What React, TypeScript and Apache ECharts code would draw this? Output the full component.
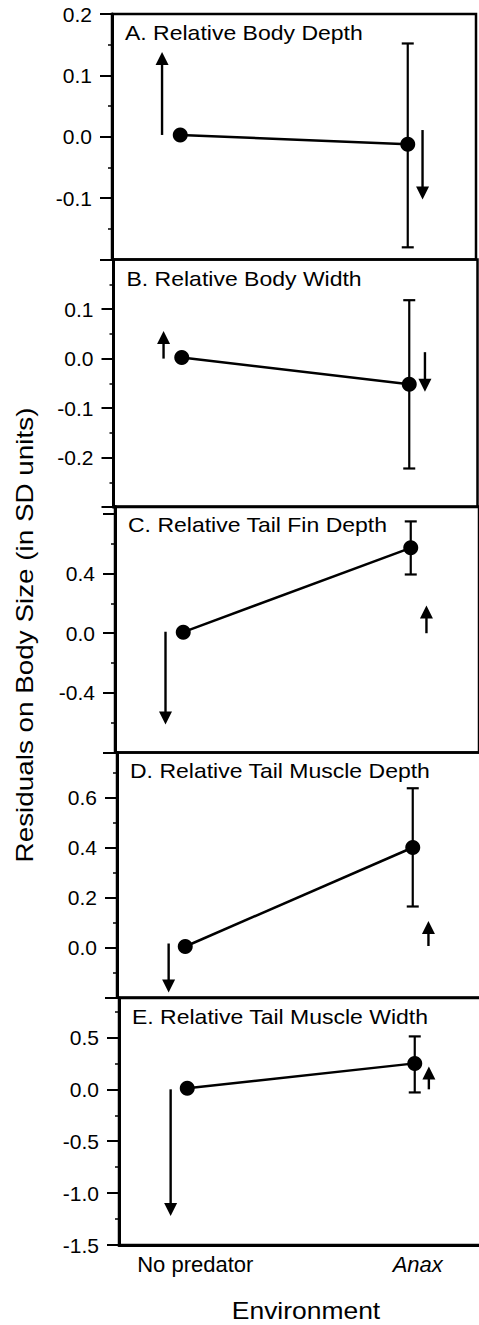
import React, { useEffect, useRef } from 'react';
import * as echarts from 'echarts';

const FONT = '"Liberation Sans", Arial, Helvetica, sans-serif';

// Categories (x positions 0 and 1 on a value axis)
const categories = ['No predator', 'Anax'];

// Panel titles
const titles = [
  'A. Relative Body Depth',
  'B. Relative Body Width',
  'C. Relative Tail Fin Depth',
  'D. Relative Tail Muscle Depth',
  'E. Relative Tail Muscle Width',
];

// Means [No predator, Anax]
const meanA = [0.003, -0.012];
const meanB = [0.002, -0.052];
const meanC = [0.007, 0.573];
const meanD = [0.004, 0.4];
const meanE = [0.01, 0.25];

// Error bar for Anax [low, high]
const errA = [-0.18, 0.152];
const errB = [-0.222, 0.118];
const errC = [0.394, 0.75];
const errD = [0.164, 0.637];
const errE = [-0.03, 0.51];

// Arrows [x, from, to(tip)]
const arrowsA = [[-0.08, 0.003, 0.138], [1.065, 0.011, -0.102]];
const arrowsB = [[-0.08, 0.0, 0.056], [1.069, 0.013, -0.067]];
const arrowsC = [[-0.078, 0.01, -0.613], [1.069, 0.0, 0.186]];
const arrowsD = [[-0.073, 0.016, -0.18], [1.069, 0.006, 0.106]];
const arrowsE = [[-0.073, 0.0, -1.22], [1.062, 0.0, 0.22]];

// Tick labels shown on each y axis
const ticksA = ['0.2', '0.1', '0.0', '-0.1'];
const ticksB = ['0.1', '0.0', '-0.1', '-0.2'];
const ticksC = ['0.4', '0.0', '-0.4'];
const ticksD = ['0.6', '0.4', '0.2', '0.0'];
const ticksE = ['0.5', '0.0', '-0.5', '-1.0', '-1.5'];

const yTitle = 'Residuals on Body Size (in SD units)';
const xTitle = 'Environment';

function fmt(v: number): string {
  if (Math.abs(v) < 1e-9) return '0.0';
  return v.toFixed(1);
}

const layout = [
  { left: 112, top: 14, height: 245.6, min: -0.2, max: 0.2, interval: 0.1 },
  { left: 113.5, top: 259.6, height: 247.5, min: -0.3, max: 0.2, interval: 0.1 },
  { left: 115, top: 506.5, height: 246, min: -0.8, max: 0.85, interval: 0.4 },
  { left: 117, top: 752.5, height: 245, min: -0.2, max: 0.78, interval: 0.2 },
  { left: 119, top: 998, height: 247, min: -1.5, max: 0.88, interval: 0.5 },
];

const means = [meanA, meanB, meanC, meanD, meanE];
const errs = [errA, errB, errC, errD, errE];
const arrows = [arrowsA, arrowsB, arrowsC, arrowsD, arrowsE];
const ticks = [ticksA, ticksB, ticksC, ticksD, ticksE];

function errRender(params: any, api: any) {
  const x = api.value(0);
  const lo = api.coord([x, api.value(1)]);
  const hi = api.coord([x, api.value(2)]);
  const cw = 6;
  const st = { stroke: '#000', lineWidth: 2.2 };
  return {
    type: 'group',
    children: [
      { type: 'line', shape: { x1: lo[0], y1: lo[1], x2: hi[0], y2: hi[1] }, style: st },
      { type: 'line', shape: { x1: lo[0] - cw, y1: lo[1], x2: lo[0] + cw, y2: lo[1] }, style: st },
      { type: 'line', shape: { x1: hi[0] - cw, y1: hi[1], x2: hi[0] + cw, y2: hi[1] }, style: st },
    ],
  };
}

function arrowRender(params: any, api: any) {
  const x = api.value(0);
  const p0 = api.coord([x, api.value(1)]);
  const p1 = api.coord([x, api.value(2)]);
  const dir = p1[1] > p0[1] ? 1 : -1;
  const hl = 13;
  const hw = 6.5;
  return {
    type: 'group',
    children: [
      {
        type: 'line',
        shape: { x1: p0[0], y1: p0[1], x2: p1[0], y2: p1[1] - dir * (hl - 1) },
        style: { stroke: '#000', lineWidth: 2.4 },
      },
      {
        type: 'polygon',
        shape: {
          points: [
            [p1[0], p1[1]],
            [p1[0] - hw, p1[1] - dir * hl],
            [p1[0] + hw, p1[1] - dir * hl],
          ],
        },
        style: { fill: '#000' },
      },
    ],
  };
}

export default function App() {
  const ref = useRef<HTMLDivElement>(null);

  useEffect(() => {
    if (!ref.current) return;
    const chart = echarts.init(ref.current, undefined, { renderer: 'svg' });

    const grid = layout.map((l) => ({
      left: l.left,
      top: l.top,
      width: 364,
      height: l.height,
      show: true,
      borderColor: '#000',
      borderWidth: 2.5,
      backgroundColor: 'transparent',
      containLabel: false,
      outerBoundsMode: 'none',
    }));

    const xAxis = layout.map((l, i) => ({
      type: 'value',
      gridIndex: i,
      min: -0.3,
      max: 1.3,
      interval: 0.1,
      show: i === 4,
      axisLine: { show: true, onZero: false, lineStyle: { color: '#000', width: 3 } },
      axisTick: { show: false },
      splitLine: { show: false },
      axisLabel: {
        show: true,
        margin: 8,
        interval: 0,
        color: '#000',
        fontFamily: FONT,
        fontSize: 22,
        formatter: (v: number) => {
          if (Math.abs(v) < 1e-6) return '{np|' + categories[0] + '}';
          if (Math.abs(v - 1) < 1e-6) return '{ax|' + categories[1] + '}';
          return '';
        },
        rich: {
          np: { fontSize: 22, fontFamily: FONT, color: '#000', padding: [0, 0, 0, 16] },
          ax: { fontSize: 22, fontFamily: FONT, color: '#000', fontStyle: 'italic', padding: [0, 0, 0, 6] },
        },
      },
    }));

    const yAxis = layout.map((l, i) => ({
      type: 'value',
      gridIndex: i,
      min: l.min,
      max: l.max,
      interval: l.interval,
      axisLine: { show: true, onZero: false, lineStyle: { color: '#000', width: 3 } },
      axisTick: { show: true, inside: false, length: 12, lineStyle: { color: '#000', width: 2 } },
      minorTick: { show: true, splitNumber: 2, length: 4, lineStyle: { color: '#000', width: 1.5 } },
      splitLine: { show: false },
      axisLabel: {
        margin: 20,
        color: '#000',
        fontFamily: FONT,
        fontSize: 21,
        showMinLabel: true,
        showMaxLabel: true,
        formatter: (v: number) => (ticks[i].includes(fmt(v)) ? fmt(v) : ''),
      },
    }));

    const series: any[] = [];
    layout.forEach((l, i) => {
      series.push({
        type: 'custom',
        xAxisIndex: i,
        yAxisIndex: i,
        renderItem: errRender,
        data: [[1, errs[i][0], errs[i][1]]],
        z: 3,
        silent: true,
      });
      series.push({
        type: 'custom',
        xAxisIndex: i,
        yAxisIndex: i,
        renderItem: arrowRender,
        data: arrows[i],
        z: 3,
        silent: true,
      });
      series.push({
        type: 'line',
        xAxisIndex: i,
        yAxisIndex: i,
        data: means[i].map((m, k) => [k, m]),
        symbol: 'circle',
        symbolSize: 15,
        itemStyle: { color: '#000' },
        lineStyle: { color: '#000', width: 2.5 },
        z: 5,
        silent: true,
      });
    });

    const graphic: any[] = titles.map((t, i) => ({
      type: 'text',
      x: layout[i].left + 13,
      y: layout[i].top + 19,
      scaleX: 1.15,
      style: {
        text: t,
        fontSize: 20,
        fontFamily: FONT,
        fill: '#000',
        align: 'left',
        textAlign: 'left',
        verticalAlign: 'middle',
        textVerticalAlign: 'middle',
      },
    }));
    graphic.push({
      type: 'text',
      x: 25,
      y: 635,
      rotation: Math.PI / 2,
      scaleX: 1.16,
      style: {
        text: yTitle,
        fontSize: 24,
        fontFamily: FONT,
        fill: '#000',
        align: 'center',
        textAlign: 'center',
        verticalAlign: 'middle',
        textVerticalAlign: 'middle',
      },
    });
    graphic.push({
      type: 'text',
      x: 306,
      y: 1311,
      scaleX: 1.15,
      style: {
        text: xTitle,
        fontSize: 23,
        fontFamily: FONT,
        fill: '#000',
        align: 'center',
        textAlign: 'center',
        verticalAlign: 'middle',
        textVerticalAlign: 'middle',
      },
    });

    chart.setOption({
      animation: false,
      backgroundColor: '#fff',
      grid,
      xAxis,
      yAxis,
      series,
      graphic,
    });

    return () => chart.dispose();
  }, []);

  return (
    <div
      ref={ref}
      style={{ position: 'absolute', left: 0, top: 0, width: 479, height: 1325 }}
    />
  );
}
